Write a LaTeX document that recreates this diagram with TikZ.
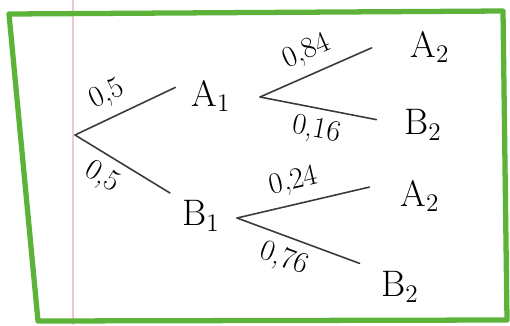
\documentclass[tikz,border=0pt]{standalone}
\usepackage{xcolor}
\usepackage{tikz}
\usetikzlibrary{positioning,calc}
\definecolor{frameGreen}{HTML}{5DB33A}
\definecolor{inkGray}{HTML}{3A3A3A}
\definecolor{marginPink}{HTML}{F2C6DA}

\begin{document}
\begin{tikzpicture}[x=0.02cm,y=-0.02cm,
    event/.style={inner sep=0pt,font=\fontsize{21}{23}\selectfont},
    prob/.style={inner sep=5pt,text=black,font=\fontsize{17}{19}\selectfont},
    branch/.style={inkGray,line width=0.9pt,line cap=round}]
    \useasboundingbox (0,0) rectangle (510,325);
    \fill[white] (0,0) rectangle (510,325);
    \draw[marginPink,line width=0.6pt] (73,0) -- (73,325);
    \draw[frameGreen,line width=3pt,line join=round] (9,14) -- (503,11) -- (507,320) -- (38,321) -- cycle;
    % nodes
    \coordinate (root) at (75,135);
    \node[event] (A1) at (211,96) {A$_1$};
    \node[event] (B1) at (201,216) {B$_1$};
    \node[event] (A2a) at (430,47) {A$_2$};
    \node[event] (B2a) at (423,125) {B$_2$};
    \node[event] (A2b) at (420,196) {A$_2$};
    \node[event] (B2b) at (400,287) {B$_2$};
    \coordinate (A1fork) at (260,97);
    \coordinate (B1fork) at (237,218);
    % branches
    \draw[branch,shorten >=10pt] (root) -- (A1.north west)
      node[prob,pos=0.36,above,sloped] (pA1) {0,5};
    \draw[branch,shorten >=8pt] (root) -- (B1.north west)
      node[prob,pos=0.36,below,sloped] (pB1) {0,5};
    \draw[branch,shorten >=24pt] (A1fork) -- (A2a.north west)
      node[prob,pos=0.37,above,sloped] (pA2a) {0,84};
    \draw[branch,shorten >=16pt] (A1fork) -- (B2a.west)
      node[prob,pos=0.42,below,sloped] (pB2a) {0,16};
    \draw[branch,shorten >=18pt] (B1fork) -- (A2b.north west)
      node[prob,pos=0.38,above,sloped] (pA2b) {0,24};
    \draw[branch,shorten >=13pt] (B1fork) -- (B2b.north west)
      node[prob,pos=0.38,below,sloped] (pB2b) {0,76};
\end{tikzpicture}
\end{document}
